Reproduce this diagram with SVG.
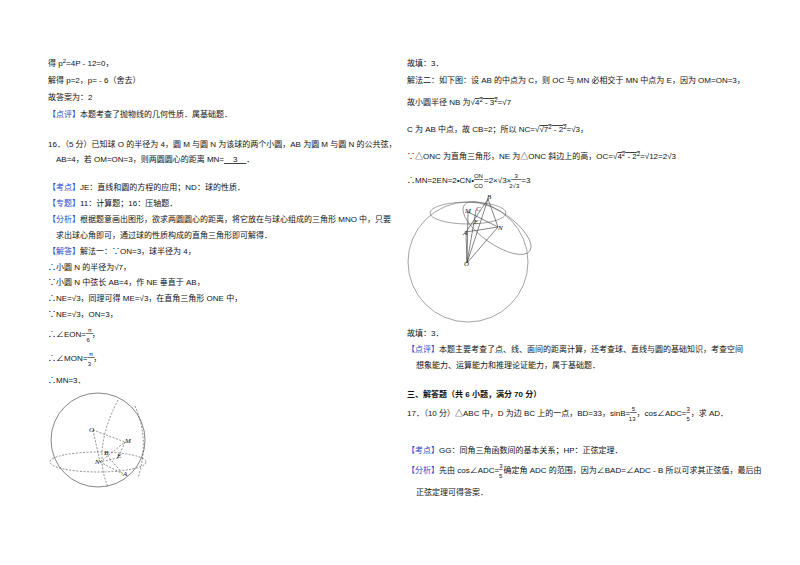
<svg xmlns="http://www.w3.org/2000/svg" width="800" height="565" viewBox="0 0 800 565">
<style>
text{font-family:"Liberation Sans","Noto Sans CJK SC",sans-serif;font-size:8px;fill:#111}
.b{fill:#2a48c8}
.s{font-size:6px}
.i{font-style:italic;font-family:"Liberation Serif",serif;font-size:7px}
.u{text-decoration:underline}
.ln{stroke:#333;stroke-width:0.6;fill:none}
.d{stroke:#444;stroke-width:0.6;fill:none;stroke-dasharray:2,1.5}
.g{stroke:#666;stroke-width:0.6;fill:none}
</style>
<rect width="800" height="565" fill="#fff"/>
<g id="left">
<text x="48" y="66">得 p<tspan class="s" dy="-3">2</tspan><tspan dy="3">=4P - 12=0，</tspan></text>
<text x="48" y="83">解得 p=2，p= - 6（舍去）</text>
<text x="48" y="100">故答案为：2</text>
<text x="48" y="117"><tspan class="b">【点评】</tspan>本题考查了抛物线的几何性质．属基础题．</text>
<text x="48" y="147">16．（5 分）已知球 O 的半径为 4，圆 M 与圆 N 为该球的两个小圆，AB 为圆 M 与圆 N 的公共弦，</text>
<text x="56" y="162">AB=4，若 OM=ON=3，则两圆圆心的距离 MN=<tspan class="u" xml:space="preserve">    3    </tspan>．</text>
<text x="48" y="190"><tspan class="b">【考点】</tspan>JE：直线和圆的方程的应用；ND：球的性质．</text>
<text x="48" y="206"><tspan class="b">【专题】</tspan>11：计算题；16：压轴题．</text>
<text x="48" y="222"><tspan class="b">【分析】</tspan>根据题意画出图形，欲求两圆圆心的距离，将它放在与球心组成的三角形 MNO 中，只要</text>
<text x="56" y="238">求出球心角即可，通过球的性质构成的直角三角形即可解得．</text>
<text x="48" y="254"><tspan class="b">【解答】</tspan>解法一：∵ON=3，球半径为 4，</text>
<text x="48" y="270">∴小圆 N 的半径为√7，</text>
<text x="48" y="285">∵小圆 N 中弦长 AB=4，作 NE 垂直于 AB，</text>
<text x="48" y="301">∴NE=√3，同理可得 ME=√3，在直角三角形 ONE 中，</text>
<text x="48" y="317">∵NE=√3，ON=3，</text>
<text x="48" y="337">∴∠EON=<tspan class="s u" dy="-5" xml:space="preserve"> π </tspan><tspan class="s" dx="-7" dy="10">6</tspan><tspan dy="-5" dx="2">，</tspan></text>
<text x="48" y="361">∴∠MON=<tspan class="s u" dy="-5" xml:space="preserve"> π </tspan><tspan class="s" dx="-7" dy="10">3</tspan><tspan dy="-5" dx="2">，</tspan></text>
<text x="48" y="383">∴MN=3．</text>
</g>
<g id="fig1">
<circle cx="98" cy="440" r="47" class="ln"/>
<ellipse cx="98" cy="462" rx="48" ry="10" class="d"/>
<path d="M135,406 Q150,440 138,478 M118,400 Q92,450 108,487" class="d"/>
<path d="M93,430 L125,442 M93,430 L100,462 M100,462 L125,442 M100,462 L123,474 M105,453 L123,474 M118,458 L100,462 M125,442 L118,458" class="d"/>
<text x="89" y="432" class="i">O</text>
<text x="125" y="443" class="i">M</text>
<text x="104" y="455" class="i">B</text>
<text x="117" y="458" class="i">E</text>
<text x="95" y="464" class="i">N</text>
<text x="123" y="476" class="i">A</text>
</g>
<g id="right">
<text x="407" y="66">故填：3．</text>
<text x="407" y="83">解法二：如下图：设 AB 的中点为 C，则 OC 与 MN 必相交于 MN 中点为 E，因为 OM=ON=3，</text>
<text x="407" y="105">故小圆半径 NB 为√<tspan text-decoration="overline">4<tspan class="s" dy="-3">2</tspan><tspan dy="3"> - 3</tspan><tspan class="s" dy="-3">2</tspan></tspan><tspan dy="3">=√7</tspan></text>
<text x="407" y="132">C 为 AB 中点，故 CB=2；所以 NC=√<tspan text-decoration="overline">√7<tspan class="s" dy="-3">2</tspan><tspan dy="3"> - 2</tspan><tspan class="s" dy="-3">2</tspan></tspan><tspan dy="3">=√3，</tspan></text>
<text x="407" y="159">∵△ONC 为直角三角形，NE 为△ONC 斜边上的高，OC=√<tspan text-decoration="overline">4<tspan class="s" dy="-3">2</tspan><tspan dy="3"> - 2</tspan><tspan class="s" dy="-3">2</tspan></tspan><tspan dy="3">=√12=2√3</tspan></text>
<text x="407" y="183">∴MN=2EN=2•CN•<tspan class="s u" dy="-5">ON</tspan><tspan class="s" dx="-9" dy="10">CO</tspan><tspan dy="-5" dx="1">=2×√3×</tspan><tspan class="s u" dy="-5" xml:space="preserve">  3  </tspan><tspan class="s" dx="-12" dy="10">2√3</tspan><tspan dy="-5" dx="2">=3</tspan></text>
</g>
<g id="fig2">
<circle cx="468" cy="262" r="60" class="g"/>
<ellipse cx="468" cy="213" rx="38" ry="11" class="g"/>
<ellipse cx="497" cy="228" rx="40" ry="16" transform="rotate(35 497 228)" class="g"/>
<path d="M488,199 L466,232 M488,199 L498,227 M488,199 L467,263 M466,232 L467,263 M498,227 L467,263 M468,212 L498,227 M468,212 L467,263 M466,232 L498,227 M476,210 L467,263" class="ln"/>
<text x="487" y="199" class="i">B</text>
<text x="465" y="213" class="i">M</text>
<text x="476" y="211" class="i">C</text>
<text x="474" y="224" class="i">E</text>
<text x="463" y="235" class="i">A</text>
<text x="498" y="230" class="i">N</text>
<text x="464" y="266" class="i">O</text>
</g>
<g id="right2">
<text x="407" y="336">故填：3．</text>
<text x="407" y="352"><tspan class="b">【点评】</tspan>本题主要考查了点、线、面间的距离计算，还考查球、直线与圆的基础知识，考查空间</text>
<text x="416" y="368">想象能力、运算能力和推理论证能力，属于基础题．</text>
<text x="407" y="397" font-weight="bold">三、解答题（共 6 小题，满分 70 分）</text>
<text x="407" y="416">17．（10 分）△ABC 中，D 为边 BC 上的一点，BD=33，sinB=<tspan class="s u" dy="-5" xml:space="preserve"> 5 </tspan><tspan class="s" dx="-8" dy="10">13</tspan><tspan dy="-5" dx="1">，cos∠ADC=</tspan><tspan class="s u" dy="-5">3</tspan><tspan class="s" dx="-3.5" dy="10">5</tspan><tspan dy="-5" dx="1">，求 AD．</tspan></text>
<text x="407" y="453"><tspan class="b">【考点】</tspan>GG：同角三角函数间的基本关系；HP：正弦定理．</text>
<text x="407" y="473"><tspan class="b">【分析】</tspan>先由 cos∠ADC=<tspan class="s u" dy="-5">3</tspan><tspan class="s" dx="-3.5" dy="10">5</tspan><tspan dy="-5" dx="1">确定角 ADC 的范围，因为∠BAD=∠ADC - B 所以可求其正弦值，最后由</tspan></text>
<text x="416" y="495">正弦定理可得答案．</text>
</g>
</svg>
